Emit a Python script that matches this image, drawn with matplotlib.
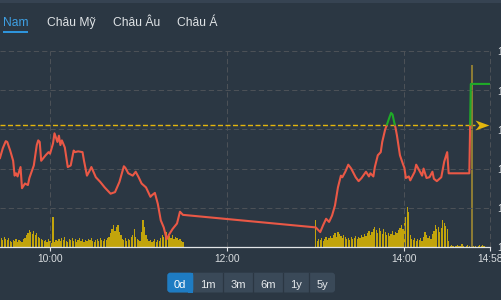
import numpy as np
import matplotlib
matplotlib.use('Agg')
import matplotlib.pyplot as plt
from matplotlib.patches import Rectangle, FancyBboxPatch
from matplotlib.path import Path

# ---------------- data ----------------
tabs = ['Nam', 'Châu Mỹ', 'Châu Âu', 'Châu Á']
ranges = ['0d', '1m', '3m', '6m', '1y', '5y']
x_tick_times = ['10:00', '12:00', '14:00', '14:58']
x_tick_labels = ['10:00', '12:00', '14:00', '14:58']
price_ticks = [1240, 1245, 1250, 1255, 1260, 1265]
reference = 1255.6

price_times = [
    '09:26', '09:28', '09:30', '09:31', '09:33', '09:35', '09:36', '09:37', '09:38', '09:40',
    '09:41', '09:43', '09:45', '09:46', '09:49', '09:51', '09:52', '09:53', '09:54', '09:57',
    '09:59', '10:00', '10:02', '10:03', '10:05', '10:06', '10:07', '10:08', '10:10', '10:12',
    '10:14', '10:16', '10:17', '10:19', '10:22', '10:23', '10:25', '10:27', '10:28', '10:31',
    '10:34', '10:37', '10:41', '10:44', '10:47', '10:50', '10:51', '10:53', '10:56', '10:58',
    '11:00', '11:02', '11:05', '11:08', '11:09', '11:11', '11:13', '11:15', '11:17', '11:19',
    '11:21', '11:23', '11:26', '11:28', '11:30',
    '13:00', '13:03', '13:05', '13:07', '13:09', '13:11', '13:13', '13:15', '13:17', '13:18',
    '13:20', '13:22', '13:24', '13:27', '13:29', '13:31', '13:34', '13:36', '13:37', '13:39',
    '13:40', '13:42', '13:44', '13:45', '13:47', '13:48', '13:50', '13:51', '13:52', '13:53',
    '13:54', '13:55', '13:57', '13:59', '14:00', '14:01', '14:03', '14:04', '14:07', '14:08',
    '14:10', '14:12', '14:13', '14:15', '14:17', '14:19', '14:20', '14:22', '14:25', '14:27',
    '14:29', '14:30', '14:44', '14:45', '14:58',
]
price_values = [
    1251.3, 1252.6, 1253.5, 1253.4, 1252.3, 1251.0, 1249.1, 1249.4, 1249.0, 1250.2,
    1247.5, 1248.1, 1247.9, 1248.8, 1250.4, 1253.0, 1253.6, 1253.4, 1251.0, 1251.7,
    1252.1, 1251.9, 1253.2, 1254.5, 1253.4, 1254.2, 1253.0, 1253.6, 1252.7, 1250.2,
    1250.4, 1252.3, 1252.1, 1252.2, 1252.1, 1251.0, 1249.1, 1249.8, 1250.2, 1248.9,
    1248.3, 1247.6, 1246.8, 1247.0, 1248.3, 1250.3, 1250.1, 1249.4, 1249.1, 1249.6,
    1248.9, 1248.1, 1247.6, 1246.4, 1246.6, 1246.9, 1245.5, 1243.4, 1242.5, 1241.0,
    1241.7, 1242.3, 1243.0, 1244.5, 1244.1,
    1242.5, 1241.9, 1242.8, 1243.6, 1243.2, 1244.0, 1245.3, 1247.6, 1249.1, 1248.9,
    1249.6, 1250.5, 1250.0, 1248.9, 1248.4, 1248.8, 1249.6, 1249.0, 1249.4, 1249.0,
    1250.2, 1251.7, 1252.1, 1253.4, 1255.0, 1255.5, 1256.6, 1257.1, 1256.9, 1256.0,
    1255.2, 1254.2, 1251.7, 1250.6, 1250.1, 1248.8, 1249.0, 1248.5, 1249.6, 1250.5,
    1249.8, 1249.1, 1250.0, 1248.8, 1248.9, 1249.6, 1248.7, 1248.4, 1248.9, 1250.9,
    1252.1, 1249.4, 1249.4, 1260.8, 1260.8,
]

vol_morning_start = '09:26'
vol_morning = [
    8, 9, 7, 10, 8, 7, 9, 6, 5, 7,
    6, 8, 5, 7, 6, 5, 8, 9, 12, 14,
    17, 15, 13, 16, 12, 14, 10, 9, 8, 7,
    6, 7, 5, 8, 6, 4, 30, 5, 7, 6,
    8, 6, 9, 7, 10, 6, 5, 8, 7, 9,
    6, 8, 5, 7, 9, 6, 8, 5, 7, 6,
    8, 7, 9, 6, 5, 7, 8, 6, 9, 7,
    6, 8, 7, 9, 10, 14, 18, 22, 16, 20,
    22, 15, 12, 8, 7, 9, 6, 8, 7, 10,
    12, 18, 10, 8, 7, 6, 15, 27, 20, 12,
    8, 6, 7, 5, 6, 8, 5, 7, 6, 9,
    12, 10, 14, 15, 13, 11, 9, 12, 8, 10,
    9, 7, 8, 6, 5,
]
vol_afternoon_start = '13:00'
vol_afternoon = [
    27, 6, 8, 7, 9, 6, 8, 10, 7, 9,
    11, 9, 12, 14, 10, 15, 13, 11, 9, 12,
    10, 8, 9, 7, 10, 8, 9, 11, 8, 10,
    9, 12, 10, 13, 11, 14, 16, 12, 15, 18,
    20, 17, 14, 19, 16, 13, 18, 15, 12, 14,
    11, 13, 16, 12, 15, 14, 17, 19, 22, 18,
    24, 30, 40, 35, 12, 8, 7, 9, 6, 8,
    7, 9, 6, 10, 15, 12, 9, 11, 8, 13,
    16, 22, 18, 20, 15, 19, 27, 24, 21, 18,
    6,
    1, 2, 1, 0, 1, 2, 1, 1, 3, 1, 0, 1, 2, 1, 0,
]
atc_time = '14:46'
atc_volume = 182
vol_late_start = '14:47'
vol_late = [1, 1, 0, 1, 2, 1, 2, 1, 0, 0, 0, 0]

# ---------------- helpers ----------------
def tmin(s):
    h, m = s.split(':')
    return int(h) * 60 + int(m) - 540

W, H = 501, 300
BG = '#2b3743'
GRID = '#4c5157'
FONT = 'Liberation Sans'
plt.rcParams['font.family'] = [FONT, 'DejaVu Sans']

fig = plt.figure(figsize=(W / 100, H / 100), dpi=100)
fig.patch.set_facecolor(BG)

XL = (26.1, tmin('14:58'))
YL = (price_ticks[0], price_ticks[-1])
rect = [0, 1 - 247 / H, 490 / W, (247 - 51) / H]

# volume axes (behind)
ax_v = fig.add_axes(rect)
ax_v.set_facecolor(BG)
def seq(start, n):
    return [tmin(start) + i for i in range(n)]
tm = seq(vol_morning_start, len(vol_morning))
ta = seq(vol_afternoon_start, len(vol_afternoon))
tl = seq(vol_late_start, len(vol_late))
vc = '#c2a40c'
bw = 0.85
ax_v.bar(tm, vol_morning, width=bw, color=vc, lw=0, align='center')
ax_v.bar(ta, vol_afternoon, width=bw, color=vc, lw=0, align='center')
ax_v.bar(tl, vol_late, width=bw, color=vc, lw=0, align='center')
ax_v.bar([tmin(atc_time)], [atc_volume], width=1.3, color='#8c7b35', lw=0, align='center')
ax_v.set_xlim(*XL)
ax_v.set_ylim(0, 196)
ax_v.axis('off')

# price axes (front)
ax = fig.add_axes(rect)
ax.set_facecolor('none')
ax.set_xlim(*XL)
ax.set_ylim(*YL)
for s in ['top', 'left', 'right']:
    ax.spines[s].set_visible(False)
ax.spines['bottom'].set_color('#e2e5e8')
ax.spines['bottom'].set_linewidth(0.9)

dash = (0, (5, 3))
for v in price_ticks[1:]:
    ax.axhline(v, color=GRID, lw=0.75, ls=dash, zorder=0, clip_on=False)
for s in x_tick_times:
    ax.axvline(tmin(s), color=GRID, lw=0.75, ls=dash, zorder=0, clip_on=False)

ax.set_xticks([tmin(s) for s in x_tick_times])
ax.set_xticklabels(x_tick_labels)
ax.tick_params(axis='x', direction='out', length=3, width=0.8, color='#e2e5e8',
               labelcolor='#d8dcdf', labelsize=7.4, pad=1.8)
ax.yaxis.tick_right()
ax.set_yticks(price_ticks)
ax.set_yticklabels([f'{v:,}' for v in price_ticks])
ax.tick_params(axis='y', length=0, labelcolor='#d8dcdf', labelsize=7.4, pad=5)

# reference line + arrow
t_arrow = 26.1 + 482 / 1.4765
ax.plot([XL[0], t_arrow - 4.5], [reference, reference], color='#e4b60c', lw=1.0,
        dashes=(3.6, 1.8), zorder=3)
arrow = Path([(1, 0), (-1, 0.72), (-0.45, 0), (-1, -0.72), (1, 0)],
             [Path.MOVETO, Path.LINETO, Path.LINETO, Path.LINETO, Path.CLOSEPOLY])
ax.plot([t_arrow], [reference], marker=arrow, markersize=10, color='#e4b60c',
        markeredgewidth=0, zorder=4, clip_on=False)

# price line split by reference
t = np.array([tmin(s) for s in price_times], float)
p = np.array(price_values, float)
tt, pp = [t[0]], [p[0]]
for i in range(1, len(t)):
    a, b = p[i - 1] - reference, p[i] - reference
    if a * b < 0:
        f = a / (a - b)
        tt.append(t[i - 1] + f * (t[i] - t[i - 1]))
        pp.append(reference)
    tt.append(t[i]); pp.append(p[i])
tt = np.array(tt); pp = np.array(pp)
red = np.where(pp <= reference + 1e-9, pp, np.nan)
green = np.where(pp >= reference - 1e-9, pp, np.nan)
ax.plot(tt, red, color='#ea5846', lw=1.5, solid_joinstyle='round', solid_capstyle='round', zorder=5)
ax.plot(tt, green, color='#1faa28', lw=1.5, solid_joinstyle='round', solid_capstyle='round', zorder=5)

# overlay in pixel coords
ov = fig.add_axes([0, 0, 1, 1], zorder=10)
ov.set_xlim(0, W); ov.set_ylim(H, 0)
ov.axis('off')
ov.add_patch(Rectangle((0, 0), W, 3.3, color='#364352', lw=0))

tab_x = [3.3, 46.7, 112.7, 176.7]
for i, (lab, x) in enumerate(zip(tabs, tab_x)):
    ov.text(x, 25.7, lab, ha='left', va='baseline', fontsize=8.7,
            color='#3ea0e4' if i == 0 else '#dfe3e6')
ov.add_patch(Rectangle((3.3, 31), 25, 2.3, color='#2e94dc', lw=0))

bx = [167.3, 193.3, 223.3, 253.3, 283.3, 309.3, 335.0]
by0, by1 = 272.7, 292.5
ov.add_patch(FancyBboxPatch((bx[0], by0), bx[-1] - bx[0], by1 - by0,
                            boxstyle='round,pad=0,rounding_size=3', fc='#3a4958', ec='none'))
ov.add_patch(FancyBboxPatch((bx[0], by0), bx[1] - bx[0], by1 - by0,
                            boxstyle='round,pad=0,rounding_size=3', fc='#1e7cc3', ec='none'))
ov.add_patch(Rectangle((bx[1] - 5, by0), 5, by1 - by0, fc='#1e7cc3', ec='none'))
for x in bx[2:-1]:
    ov.plot([x, x], [by0, by1], color='#2b3743', lw=0.9)
for i, lab in enumerate(ranges):
    cx = (bx[i] + bx[i + 1]) / 2
    ov.text(cx, 287.6, lab, ha='center', va='baseline', fontsize=8,
            color='#ffffff' if i == 0 else '#e6e9ec')

fig.savefig('out.png', dpi=100, facecolor=BG)
